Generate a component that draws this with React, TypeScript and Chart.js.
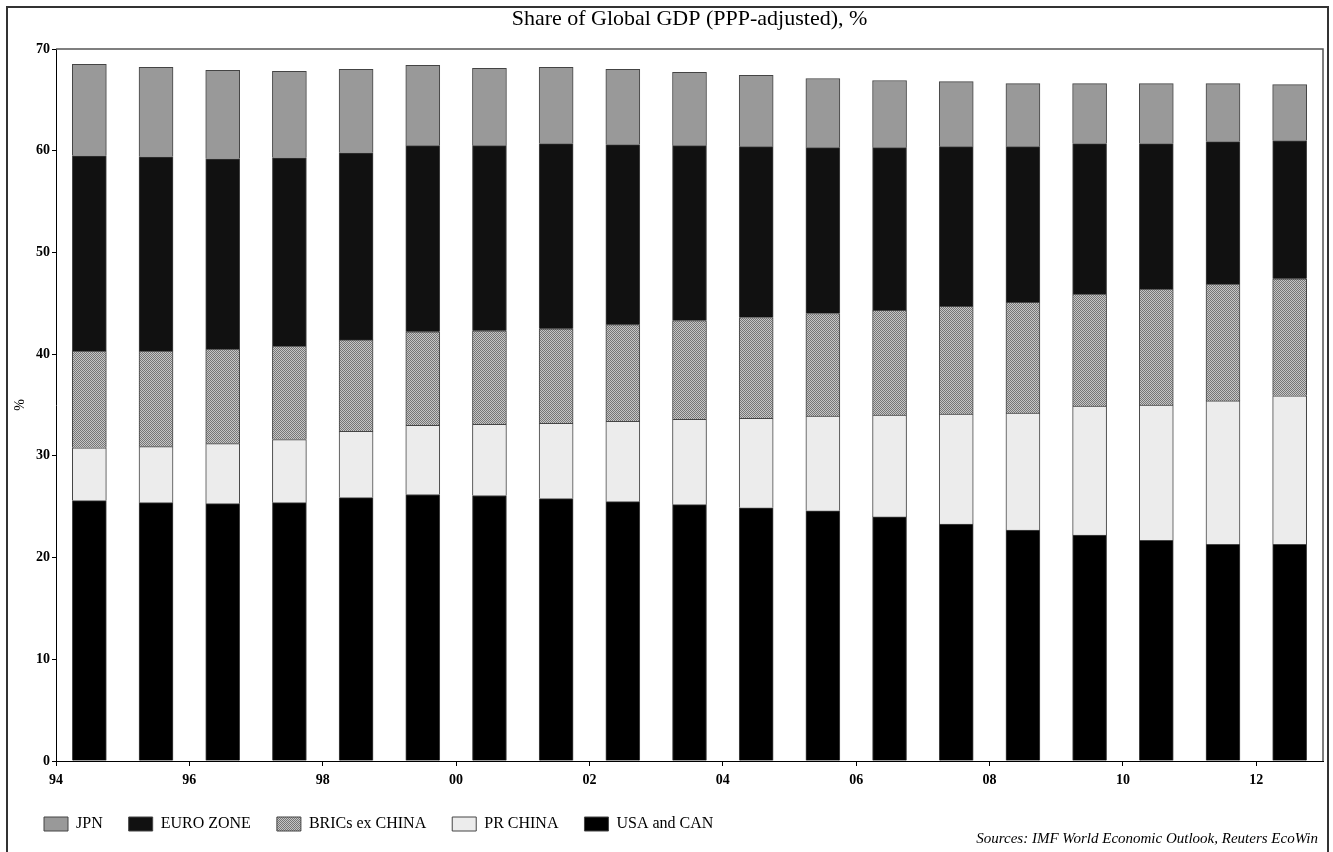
import React, { useEffect, useRef } from 'react';
import { Chart, registerables } from 'chart.js';

Chart.register(...registerables);

// ---- data ----
const years = [1994, 1995, 1996, 1997, 1998, 1999, 2000, 2001, 2002, 2003, 2004, 2005, 2006, 2007, 2008, 2009, 2010, 2011, 2012];
const xTickLabels = ['94', '96', '98', '00', '02', '04', '06', '08', '10', '12'];
const yTickValues = [0, 10, 20, 30, 40, 50, 60, 70];

const usaCan = [25.6, 25.4, 25.3, 25.4, 25.9, 26.2, 26.1, 25.8, 25.5, 25.2, 24.9, 24.6, 24.0, 23.3, 22.7, 22.2, 21.7, 21.3, 21.3];
const prChina = [5.2, 5.5, 5.9, 6.2, 6.5, 6.8, 7.0, 7.4, 7.9, 8.4, 8.8, 9.3, 10.0, 10.8, 11.5, 12.7, 13.3, 14.1, 14.6];
const bricsExChina = [9.5, 9.4, 9.3, 9.2, 9.0, 9.2, 9.2, 9.3, 9.5, 9.7, 9.9, 10.1, 10.3, 10.6, 10.9, 11.0, 11.4, 11.5, 11.5];
const euroZone = [19.2, 19.1, 18.7, 18.5, 18.4, 18.3, 18.2, 18.2, 17.7, 17.2, 16.8, 16.3, 16.0, 15.7, 15.3, 14.8, 14.3, 14.0, 13.6];
const jpn = [9.0, 8.8, 8.7, 8.5, 8.2, 7.9, 7.6, 7.5, 7.4, 7.2, 7.0, 6.8, 6.6, 6.4, 6.2, 5.9, 5.9, 5.7, 5.5];

const seriesLabels = ['USA and CAN', 'PR CHINA', 'BRICs ex CHINA', 'EURO ZONE', 'JPN'];

const TITLE = 'Share of Global GDP (PPP-adjusted), %';
const SOURCES = 'Sources: IMF World Economic Outlook, Reuters EcoWin';
const FONT = '"Liberation Serif", "Times New Roman", serif';

function makePattern(): CanvasPattern | string {
  const c = document.createElement('canvas');
  c.width = 2;
  c.height = 2;
  const g = c.getContext('2d');
  if (!g) return '#a0a0a0';
  g.fillStyle = '#c6c6c6';
  g.fillRect(0, 0, 2, 2);
  g.fillStyle = '#767676';
  g.fillRect(0, 0, 1, 1);
  g.fillRect(1, 1, 1, 1);
  const p = g.createPattern(c, 'repeat');
  return p || '#a0a0a0';
}

const toPoints = (vals: number[]) => vals.map((v, i) => ({ x: years[i] + 0.5, y: v }));

export default function App() {
  const ref = useRef<HTMLCanvasElement | null>(null);

  useEffect(() => {
    document.body.style.margin = '0';
    document.body.style.background = '#ffffff';
    const canvas = ref.current;
    if (!canvas) return;
    const pattern = makePattern();

    const decor = {
      id: 'decor',
      beforeDraw(chart: any) {
        const { ctx, width, height } = chart;
        ctx.save();
        ctx.fillStyle = '#ffffff';
        ctx.fillRect(0, 0, width, height);
        ctx.restore();
      },
      afterDraw(chart: any) {
        const { ctx, chartArea: a } = chart;
        ctx.save();
        // plot frame (top & right)
        ctx.strokeStyle = '#555555';
        ctx.lineWidth = 1.5;
        ctx.beginPath();
        ctx.moveTo(a.left, a.top);
        ctx.lineTo(a.right, a.top);
        ctx.lineTo(a.right, a.bottom);
        ctx.stroke();
        // outer frame
        ctx.strokeStyle = '#333333';
        ctx.lineWidth = 2;
        ctx.beginPath();
        ctx.moveTo(7, 900);
        ctx.lineTo(7, 7);
        ctx.lineTo(1328, 7);
        ctx.lineTo(1328, 900);
        ctx.stroke();
        // sources
        ctx.fillStyle = '#000000';
        ctx.font = `italic 15px ${FONT}`;
        ctx.textAlign = 'right';
        ctx.textBaseline = 'middle';
        ctx.fillText(SOURCES, 1318, 839);
        ctx.restore();
      },
    };

    const border = { borderWidth: 1, borderColor: '#444444' };

    const chart = new Chart(canvas, {
      type: 'bar',
      data: {
        datasets: [
          { label: seriesLabels[0], data: toPoints(usaCan), backgroundColor: '#000000', ...border },
          { label: seriesLabels[1], data: toPoints(prChina), backgroundColor: '#ececec', ...border },
          { label: seriesLabels[2], data: toPoints(bricsExChina), backgroundColor: pattern as any, ...border },
          { label: seriesLabels[3], data: toPoints(euroZone), backgroundColor: '#111111', ...border },
          { label: seriesLabels[4], data: toPoints(jpn), backgroundColor: '#999999', ...border },
        ],
      },
      options: {
        animation: false,
        responsive: false,
        layout: { padding: { left: 18, right: 10, top: 0, bottom: 10 } },
        datasets: { bar: { barThickness: 34 } },
        scales: {
          x: {
            type: 'linear',
            stacked: true,
            offset: false,
            min: years[0],
            max: years[years.length - 1] + 1,
            afterFit: (s: any) => { s.height = 29; },
            border: { display: true, color: '#000000', width: 1 },
            grid: { display: true, drawOnChartArea: false, drawTicks: true, tickLength: 5, color: '#000000', offset: false },
            ticks: {
              stepSize: 2,
              includeBounds: false,
              autoSkip: false,
              maxRotation: 0,
              padding: 6,
              color: '#000000',
              font: { family: FONT, size: 14, weight: 'bold' },
              callback: (v: any) => {
                const idx = (Number(v) - years[0]) / 2;
                return xTickLabels[idx] ?? '';
              },
            },
          },
          y: {
            stacked: true,
            min: yTickValues[0],
            max: yTickValues[yTickValues.length - 1],
            afterFit: (s: any) => { s.width = 38; },
            border: { display: true, color: '#000000', width: 1 },
            grid: { display: true, drawOnChartArea: false, drawTicks: true, tickLength: 4, color: '#000000' },
            title: { display: true, text: '%', color: '#000000', font: { family: FONT, size: 14 }, padding: { top: -6, bottom: 0 } },
            ticks: {
              stepSize: 10,
              padding: 2,
              color: '#000000',
              font: { family: FONT, size: 14, weight: 'bold' },
            },
          },
        },
        plugins: {
          title: {
            display: true,
            fullSize: false,
            text: TITLE,
            color: '#000000',
            font: { family: FONT, size: 22, weight: 'normal' },
            padding: { top: 6.5, bottom: 16.1 },
          },
          legend: {
            display: true,
            position: 'bottom',
            align: 'start',
            reverse: true,
            labels: {
              boxWidth: 24,
              boxHeight: 14,
              padding: 26,
              color: '#000000',
              font: { family: FONT, size: 16 },
            },
          },
          tooltip: { enabled: false },
        },
      } as any,
      plugins: [decor],
    });

    return () => chart.destroy();
  }, []);

  return (
    <div style={{ width: 1333, height: 852, position: 'relative' }}>
      <canvas ref={ref} width={1333} height={852} />
    </div>
  );
}
